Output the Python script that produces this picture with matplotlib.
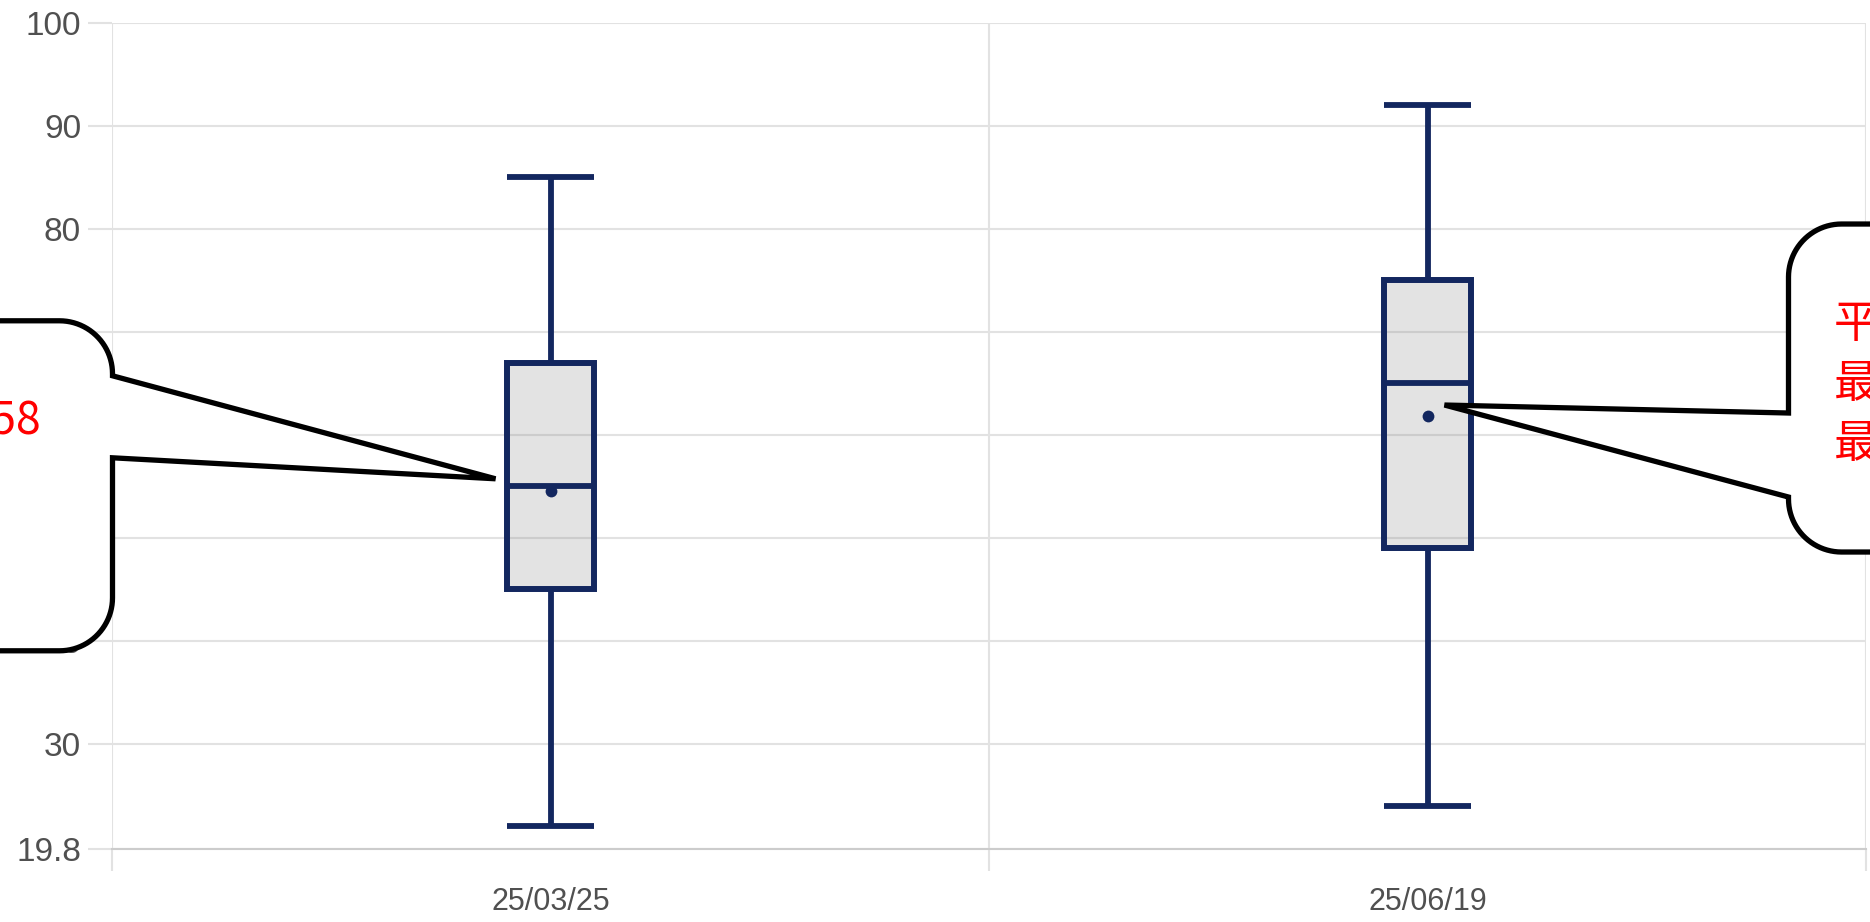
import numpy as np
import matplotlib
matplotlib.use("Agg")
import matplotlib.pyplot as plt
from matplotlib.path import Path
from matplotlib.patches import PathPatch
from matplotlib.transforms import IdentityTransform

# ---- data ----
dates = ['25/03/25', '25/06/19']
lows = [22, 24]
q1s = [45, 49]
medians = [55, 65]
q3s = [67, 75]
highs = [85, 92]
means = [54.58, 61.84]
y_ticks = [19.8, 30, 40, 50, 60, 70, 80, 90, 100]
y_labels = ['19.8', '30', '40', '50', '60', '70', '80', '90', '100']
tip_lines = [
    ['平均：54.58', '最大：85', '最小：22'],
    ['平均：61.84', '最大：92', '最小：24'],
]

NAVY = '#13275f'
GRID = '#e2e2e2'
W, H, DPI = 1870, 922, 100

plt.rcParams['font.family'] = ['Liberation Sans', 'DejaVu Sans']

fig = plt.figure(figsize=(W / DPI, H / DPI), dpi=DPI)
ax = fig.add_axes([112 / W, 1 - 849 / H, 1754 / W, 826 / H])

# ---- box plot ----
stats = []
for d, lo, a, m, b, hi, mu in zip(dates, lows, q1s, medians, q3s, highs, means):
    stats.append(dict(label=d, whislo=lo, q1=a, med=m, q3=b, whishi=hi,
                      mean=mu, fliers=[]))

line_kw = dict(color=NAVY, linewidth=4.2, solid_capstyle='butt')
ax.bxp(stats, positions=range(len(dates)), widths=0.1, capwidths=0.1,
       showmeans=True, patch_artist=True, manage_ticks=False,
       boxprops=dict(facecolor=(0.5, 0.5, 0.5, 0.22), edgecolor=NAVY, linewidth=4.3),
       whiskerprops=line_kw, capprops=line_kw, medianprops=line_kw,
       meanprops=dict(marker='o', markerfacecolor=NAVY, markeredgewidth=0,
                      markersize=8.5))

# ---- axes styling ----
ax.set_xlim(-0.5, len(dates) - 0.5)
ax.set_ylim(19.8, 100)
ax.set_yticks(y_ticks)
ax.set_yticklabels(y_labels)
ax.set_xticks(range(len(dates)))
ax.set_xticklabels(dates)
ax.set_xticks(np.arange(-0.5, len(dates), 1.0), minor=True)

for s in ['left', 'right', 'top']:
    ax.spines[s].set_visible(False)
ax.spines['bottom'].set_color('#cccccc')
ax.spines['bottom'].set_linewidth(1.5)

ax.grid(axis='y', which='major', color=GRID, linewidth=1.5)
ax.grid(axis='x', which='minor', color=GRID, linewidth=1.5)
ax.set_axisbelow(True)

ax.tick_params(axis='y', length=17.3, width=1.5, color=GRID, labelcolor='#505050',
               labelsize=24, pad=5)
ax.tick_params(axis='x', which='major', length=0, labelcolor='#505050',
               labelsize=22, pad=27)
ax.tick_params(axis='x', which='minor', length=15.8, width=1.5, color=GRID)

# ---- tooltip callouts (pixel layout around the mean point) ----
R = 53
cjk = ['Noto Sans CJK JP', 'DejaVu Sans']
renderer = fig.canvas.get_renderer()


def arc(cx, cy, a0, a1, n=24):
    t = np.radians(np.linspace(a0, a1, n))
    return list(zip(cx + R * np.cos(t), cy + R * np.sin(t)))


def draw_callout(pts):
    verts = pts + [pts[0]]
    codes = [Path.MOVETO] + [Path.LINETO] * (len(verts) - 2) + [Path.CLOSEPOLY]
    patch = PathPatch(Path(verts, codes), facecolor='white', edgecolor='black',
                      linewidth=3.8, joinstyle='miter', transform=IdentityTransform(),
                      zorder=10)
    fig.add_artist(patch)


def put_text(x, y, s, ha):
    return fig.text(x, y, s, color='red', fontsize=32, family=cjk, ha=ha,
                    va='baseline', transform=IdentityTransform(), zorder=11)


# left callout: pointer on its right side, box runs off the left edge
ax_px, ay_px = ax.transData.transform((0, means[0]))
tx, ty = ax_px - 55, ay_px + 12
right, top, bottom = tx - 383, ty + 158, ty - 172
pts = [(tx, ty), (right, ty + 103), (right, top - R)]
pts += arc(right - R, top - R, 0, 90)
pts += [(right - 700, top), (right - 700, bottom)]
pts += arc(right - R, bottom + R, 270, 360)
pts += [(right, ty + 21)]
draw_callout(pts)

first = put_text(right - 71, top - 113, tip_lines[0][0], 'right')
x0 = first.get_window_extent(renderer).x0
for k, s in enumerate(tip_lines[0][1:]):
    put_text(x0, top - 174 - 59 * k, s, 'left')

# right callout: pointer on its left side, box runs off the right edge
ax_px, ay_px = ax.transData.transform((1, means[1]))
tx, ty = ax_px + 17, ay_px + 11
left, top, bottom = tx + 344, ty + 181, ty - 147
pts = [(tx, ty), (left, ty - 8), (left, top - R)]
pts += arc(left + R, top - R, 180, 90)
pts += [(left + 700, top), (left + 700, bottom)]
pts += arc(left + R, bottom + R, 270, 180)
pts += [(left, ty - 92)]
draw_callout(pts)

for k, s in enumerate(tip_lines[1]):
    put_text(left + 45, top - 113 - 60 * k, s, 'left')

fig.savefig('out.png', dpi=DPI, facecolor='white')
